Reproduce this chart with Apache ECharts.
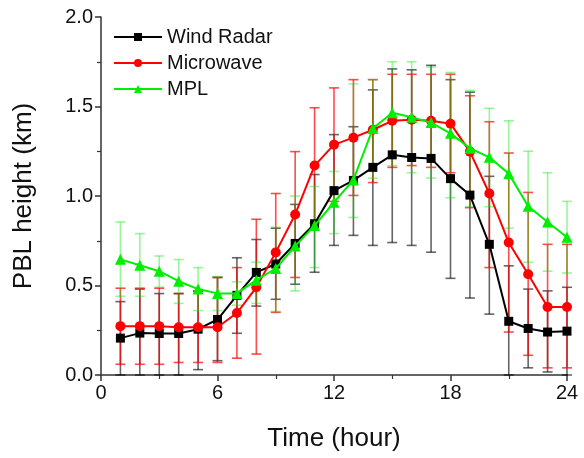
<!DOCTYPE html>
<html>
<head>
<meta charset="utf-8">
<script src="https://cdn.jsdelivr.net/npm/echarts@6/dist/echarts.min.js"></script>
<style>
html,body{margin:0;padding:0;background:#fff;}
#chart{width:584px;height:458px;}
</style>
</head>
<body>
<div id="chart"></div>
<script>
var hours = [1,2,3,4,5,6,7,8,9,10,11,12,13,14,15,16,17,18,19,20,21,22,23,24];

var windRadar = [0.206,0.234,0.232,0.232,0.256,0.31,0.445,0.573,0.62,0.735,0.845,1.03,1.087,1.16,1.23,1.215,1.21,1.097,1.005,0.73,0.30,0.26,0.24,0.245];
var windRadarHi = [0.41,0.48,0.455,0.455,0.467,0.545,0.655,0.757,0.82,0.953,1.12,1.343,1.387,1.593,1.71,1.705,1.73,1.65,1.58,1.11,0.61,0.48,0.47,0.49];
var windRadarLo = [0.0,0.0,0.0,0.0,0.03,0.08,0.233,0.385,0.423,0.507,0.574,0.724,0.78,0.724,0.74,0.724,0.686,0.54,0.43,0.34,0.0,0.04,0.017,0.0];

var microwave = [0.273,0.273,0.273,0.267,0.267,0.267,0.346,0.49,0.685,0.897,1.17,1.287,1.326,1.37,1.42,1.426,1.42,1.404,1.248,1.014,0.74,0.563,0.38,0.38];
var microwaveHi = [0.485,0.485,0.485,0.455,0.47,0.545,0.60,0.87,1.014,1.248,1.493,1.604,1.65,1.65,1.68,1.68,1.68,1.68,1.56,1.415,1.24,1.02,0.73,0.73];
var microwaveLo = [0.06,0.06,0.06,0.07,0.07,0.07,0.094,0.117,0.35,0.545,0.85,0.97,1.003,1.075,1.16,1.17,1.16,1.13,0.935,0.60,0.24,0.11,0.04,0.04];

var mpl = [0.646,0.613,0.58,0.524,0.48,0.456,0.456,0.53,0.595,0.72,0.835,0.965,1.09,1.377,1.465,1.44,1.41,1.35,1.267,1.216,1.125,0.943,0.855,0.77];
var mplHi = [0.855,0.79,0.665,0.645,0.60,0.55,0.52,0.63,0.825,1.0,1.053,1.137,1.627,1.65,1.75,1.75,1.72,1.69,1.59,1.49,1.42,1.25,1.13,0.97];
var mplLo = [0.44,0.44,0.49,0.40,0.36,0.36,0.39,0.40,0.355,0.47,0.60,0.79,0.88,1.10,1.17,1.13,1.10,0.99,0.94,0.94,0.82,0.63,0.58,0.57];

var xTicks = [0,6,12,18,24];
var yTicks = [0.0,0.5,1.0,1.5,2.0];

function pairs(xs, ys){ return xs.map(function(x,i){ return [x, ys[i]]; }); }
function errData(xs, lo, hi){ return xs.map(function(x,i){ return [x, lo[i], hi[i]]; }); }

function errSeries(name, data, color){
  return {
    name: name,
    type: 'custom',
    z: 1,
    silent: true,
    data: data,
    renderItem: function(params, api){
      var x = api.value(0);
      var lo = api.coord([x, api.value(1)]);
      var hi = api.coord([x, api.value(2)]);
      var hw = 5;
      var st = {stroke: color, lineWidth: 1.6, fill: null};
      return {
        type: 'group',
        children: [
          {type:'line', shape:{x1:lo[0],y1:lo[1],x2:hi[0],y2:hi[1]}, style: st},
          {type:'line', shape:{x1:lo[0]-hw,y1:lo[1],x2:lo[0]+hw,y2:lo[1]}, style: st},
          {type:'line', shape:{x1:hi[0]-hw,y1:hi[1],x2:hi[0]+hw,y2:hi[1]}, style: st}
        ]
      };
    }
  };
}

var chart = echarts.init(document.getElementById('chart'), null, {renderer:'canvas'});
var font = 'Liberation Sans, Arial, sans-serif';
chart.setOption({
  animation: false,
  backgroundColor: '#fff',
  textStyle: {fontFamily: font},
  grid: {left: 101, right: 17, top: 17, bottom: 83},
  legend: {
    orient: 'vertical',
    left: 108,
    top: 22,
    itemWidth: 48,
    itemHeight: 10,
    itemGap: 6,
    itemTextGap: 7,
    textStyle: {fontSize: 20, color: '#111', fontFamily: font},
    data: ['Wind Radar','Microwave','MPL']
  },
  xAxis: {
    type: 'value',
    min: 0, max: 24, interval: 6,
    name: 'Time (hour)',
    nameLocation: 'middle',
    nameGap: 51,
    nameTextStyle: {fontSize: 26, color: '#111', fontFamily: font},
    axisLine: {show: true, onZero: false, lineStyle: {color: '#333', width: 1.5}},
    axisTick: {show: true, length: 6, lineStyle: {color: '#333', width: 1.5}},
    minorTick: {show: true, splitNumber: 2, length: 4, lineStyle: {color: '#333', width: 1.2}},
    axisLabel: {fontSize: 20, color: '#111', margin: 8, fontFamily: font,
      formatter: function(v){ return xTicks.indexOf(v) >= 0 ? String(v) : ''; }},
    splitLine: {show: false}
  },
  yAxis: {
    type: 'value',
    min: 0, max: 2, interval: 0.5,
    name: 'PBL height (km)',
    nameLocation: 'middle',
    nameGap: 64,
    nameTextStyle: {fontSize: 26, color: '#111', fontFamily: font},
    axisLine: {show: true, lineStyle: {color: '#333', width: 1.5}},
    axisTick: {show: true, length: 6, lineStyle: {color: '#333', width: 1.5}},
    minorTick: {show: true, splitNumber: 2, length: 4, lineStyle: {color: '#333', width: 1.2}},
    axisLabel: {fontSize: 20, color: '#111', margin: 8, fontFamily: font,
      formatter: function(v){ return v.toFixed(1); }},
    splitLine: {show: false}
  },
  series: [
    errSeries('wrErr', errData(hours, windRadarLo, windRadarHi), 'rgba(0,0,0,0.6)'),
    errSeries('mwErr', errData(hours, microwaveLo, microwaveHi), 'rgba(255,0,0,0.7)'),
    errSeries('mplErr', errData(hours, mplLo, mplHi), 'rgba(0,230,0,0.4)'),
    {
      name: 'Wind Radar', type: 'line', z: 3,
      data: pairs(hours, windRadar),
      symbol: 'rect', symbolSize: 9,
      lineStyle: {color: '#000', width: 2},
      itemStyle: {color: '#000'}
    },
    {
      name: 'Microwave', type: 'line', z: 4,
      data: pairs(hours, microwave),
      symbol: 'circle', symbolSize: 10,
      lineStyle: {color: '#ff0000', width: 2},
      itemStyle: {color: '#ff0000'}
    },
    {
      name: 'MPL', type: 'line', z: 5,
      data: pairs(hours, mpl),
      symbol: 'triangle', symbolSize: 11,
      lineStyle: {color: '#00ee00', width: 2},
      itemStyle: {color: '#00ee00'}
    }
  ]
});
</script>
</body>
</html>
